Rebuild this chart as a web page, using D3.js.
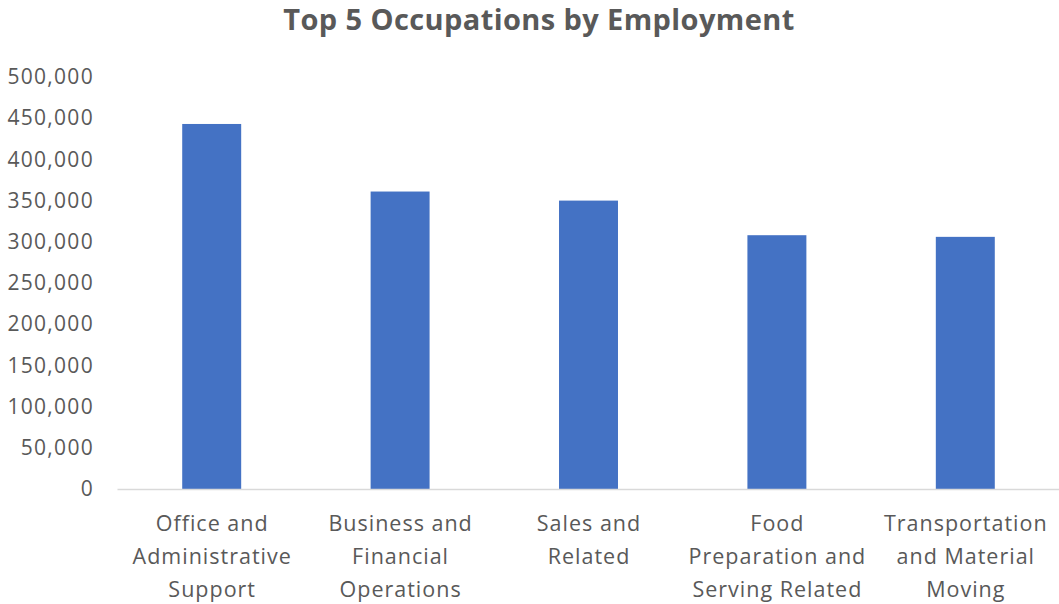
<!DOCTYPE html>
<html>
<head>
<meta charset="utf-8">
<script src="https://cdn.jsdelivr.net/npm/d3@7"></script>
<style>
  html, body { margin: 0; padding: 0; background: #fff; }
  svg text { font-family: "Open Sans", "Noto Sans", sans-serif; fill: #595959; }
</style>
</head>
<body>
<svg id="chart" width="1059" height="604"></svg>
<script>
// Employment by occupation group
const categories = [
  ["Office and", "Administrative", "Support"],
  ["Business and", "Financial", "Operations"],
  ["Sales and", "Related"],
  ["Food", "Preparation and", "Serving Related"],
  ["Transportation", "and Material", "Moving"]
];
const employment = [443000, 361000, 350000, 308000, 306000];
const yTicks = [0, 50000, 100000, 150000, 200000, 250000, 300000, 350000, 400000, 450000, 500000];
const title = "Top 5 Occupations by Employment";

const svg = d3.select("#chart");
const plot = { left: 117.5, right: 1059.5, top: 77, bottom: 489 };

const x = d3.scaleBand()
  .domain(d3.range(categories.length))
  .range([plot.left, plot.right])
  .paddingInner(0.687)
  .paddingOuter(0.3435);

const y = d3.scaleLinear().domain([0, 500000]).range([plot.bottom, plot.top]);

svg.append("text")
  .attr("x", 539).attr("y", 30)
  .attr("text-anchor", "middle")
  .style("font-size", "29px").style("font-weight", "bold")
  .style("letter-spacing", "0.4px")
  .text(title);

// y axis labels (no axis line or gridlines)
const yAxis = d3.axisLeft(y).tickValues(yTicks).tickSize(0).tickPadding(0)
  .tickFormat(d3.format(","));
const gy = svg.append("g").attr("transform", "translate(94,0)").call(yAxis);
gy.select(".domain").remove();
gy.selectAll("text").style("font-size", "21px").style("letter-spacing", "1.3px")
  .attr("fill", null).style("font-family", null);

// bars
svg.append("g").selectAll("rect")
  .data(employment)
  .join("rect")
  .attr("x", (d, i) => x(i))
  .attr("width", x.bandwidth())
  .attr("y", d => y(d))
  .attr("height", d => y(0) - y(d))
  .attr("fill", "#4472c4");

// baseline
svg.append("line")
  .attr("x1", plot.left).attr("x2", plot.right)
  .attr("y1", y(0) + 0.5).attr("y2", y(0) + 0.5)
  .attr("stroke", "#d9d9d9").attr("stroke-width", 1.5);

// category labels
const gx = svg.append("g");
categories.forEach((lines, i) => {
  const cx = x(i) + x.bandwidth() / 2 + 0.5;
  const t = gx.append("text")
    .attr("x", cx)
    .attr("y", 531)
    .attr("text-anchor", "middle")
    .style("font-size", "21.5px")
    .style("letter-spacing", "1px");
  lines.forEach((s, k) => {
    t.append("tspan").attr("x", cx)
      .attr("dy", k === 0 ? 0 : 33).text(s);
  });
});
</script>
</body>
</html>
